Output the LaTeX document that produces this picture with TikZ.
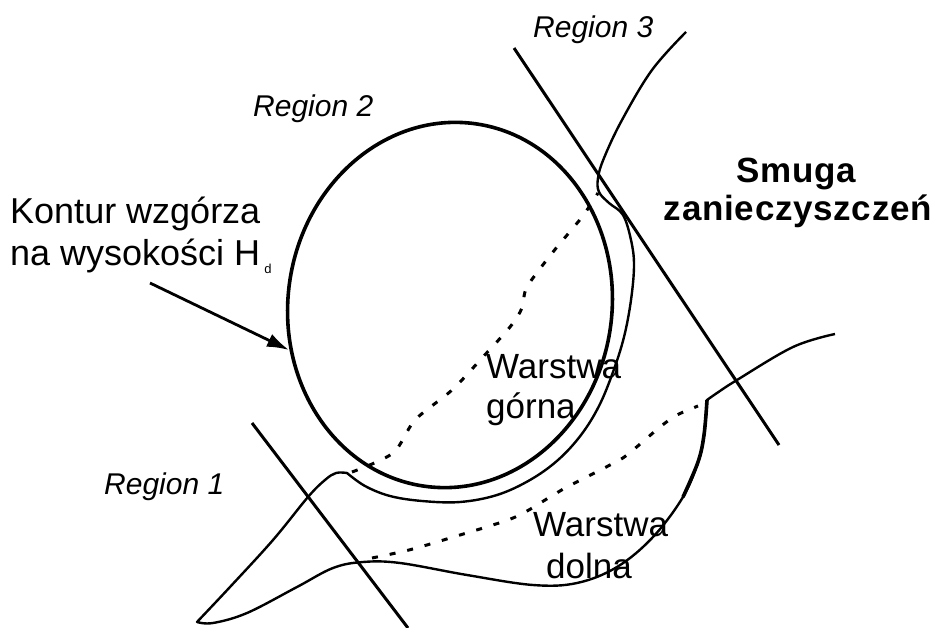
\documentclass[tikz,border=0pt]{standalone}
\usepackage{fontspec}
\setmainfont{Liberation Sans}
\newfontfamily\plumefont[LetterSpace=2]{Liberation Sans}
\usetikzlibrary{arrows.meta}

\tikzset{
  lbl/.style={inner sep=0pt, anchor=base west, font=\fontsize{35}{40}\selectfont},
  bigLbl/.style={inner sep=0pt, anchor=base west, font=\fontsize{36}{42}\selectfont},
  regionlbl/.style={inner sep=0pt, anchor=base west, font=\itshape\fontsize{30}{34}\selectfont},
  plumelbl/.style={inner sep=0pt, font=\plumefont\bfseries\fontsize{35}{40}\selectfont},
  cutline/.style={line width=3pt},
  contour/.style={line width=2.4pt, line join=round},
  hill/.style={line width=3.6pt},
  layer/.style={line width=3pt, dash pattern=on 6pt off 12pt},
  pointer/.style={line width=2.8pt, -{Latex[length=22pt,width=14pt]}},
}

\begin{document}
\begin{tikzpicture}[x=1pt,y=-1pt]
\useasboundingbox (0,0) rectangle (934,628);

% hill contour at height H_d
\coordinate (hillc) at (450,305);
\draw[hill, rotate around={-8:(hillc)}] (hillc) ellipse [x radius=162, y radius=183];
\coordinate (hilledge) at (289,350);

% plume outline: upper edge around the hill, lower edge below it
\draw[contour]
  plot[smooth, tension=0.6] coordinates {
    (686,32) (652,70) (622,120) (604,158) (598,178) (599,192) (609,203)
    (623,215) (631,240) (634,265) (631,300) (624,337) (613,372) (599,406)
    (581,435) (558,460) (530,480) (497,495) (460,502) (422,501) (390,496)
    (365,486) (347,473)}
  -- plot[smooth, tension=0.6] coordinates {
    (347,473) (336,473) (325,480) (308,497) (273,540) (230,587) (197,622)}
  -- plot[smooth, tension=0.6] coordinates {
    (197,622) (213,623) (247,613) (297,587) (333,568) (363,562) (400,563)
    (467,575) (533,585) (577,583) (617,567) (653,537) (683,497) (698,462)
    (704,435) (707,400)}
  -- plot[smooth, tension=0.6] coordinates {
    (707,400) (717,393) (737,380) (793,347) (835,334)};
% heavier stretch of the lower edge below the bend
\draw[line width=3.6pt] plot[smooth, tension=0.6] coordinates {
    (683,497) (698,462) (704,435) (707,400)};

% layer boundaries
\draw[layer] plot[smooth, tension=0.5] coordinates {
  (352,472) (393,453) (415,420) (452,390) (482,358) (510,327) (522,308)
  (527,287) (553,252) (582,217) (598,193)};
\draw[layer] plot[smooth, tension=0.5] coordinates {
  (372,558) (409,550) (450,538) (513,518) (550,497) (567,487) (610,465)
  (627,455) (660,427) (677,415) (698,406)};

% region boundaries
\coordinate (r1a) at (252,423);
\coordinate (r1b) at (408,628);
\coordinate (r3a) at (514,48);
\coordinate (r3b) at (779,445);
\draw[cutline] (r1a) -- (r1b);
\draw[cutline] (r3a) -- (r3b);

% labels
\node[regionlbl] (reg1) at (104,494) {Region 1};
\node[regionlbl] (reg2) at (253,117) {Region 2};
\node[regionlbl] (reg3) at (533,38) {Region 3};

\node[bigLbl] (kontur1) at (10,224) {Kontur wzgórza};
\node[bigLbl] (kontur2) at (10,266) {na wysokości H\kern4pt\raisebox{-8pt}{\fontsize{13}{13}\selectfont d}};
\coordinate (arrowtail) at (150,283);
\draw[pointer] (arrowtail) -- (hilledge);

\node[plumelbl, anchor=base] (smuga) at (796,183) {Smuga};
\node[plumelbl, anchor=base east] (zanie) at (932,221) {zanieczyszczeń};

\node[lbl] (wg1) at (486,378) {Warstwa};
\node[lbl] (wg2) at (486,418) {górna};
\node[lbl] (wd1) at (533,536) {Warstwa};
\node[lbl] (wd2) at (546,578) {dolna};
\end{tikzpicture}
\end{document}
